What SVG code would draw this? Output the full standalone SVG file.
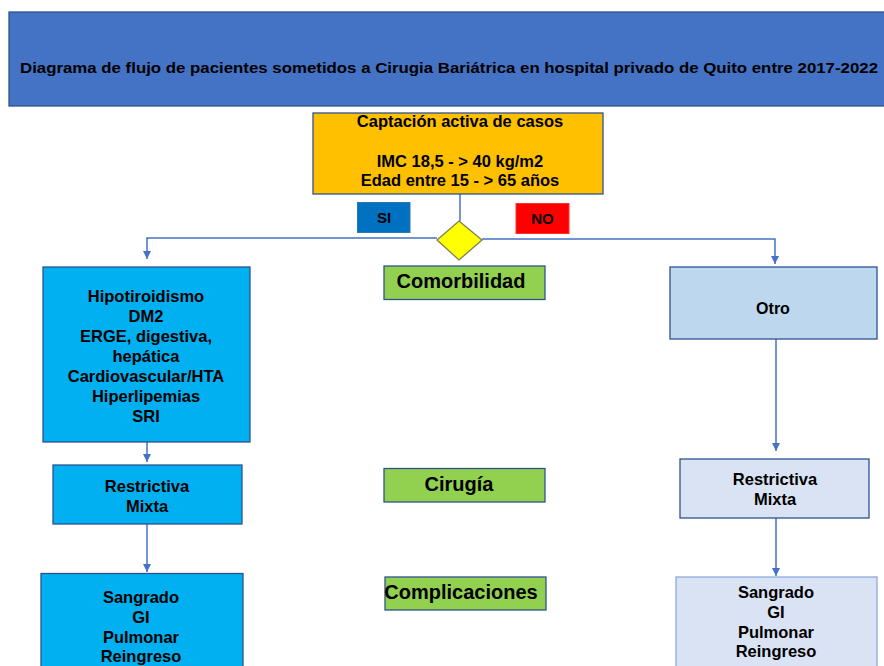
<svg xmlns="http://www.w3.org/2000/svg" width="884" height="666" viewBox="0 0 884 666">
<style>
text{font-family:"Liberation Sans",Arial,sans-serif;font-weight:bold;fill:#000;text-anchor:middle}
.b{stroke:#2F528F;stroke-width:1.3}
.c{stroke:#4472C4;stroke-width:1.5;fill:none}
.t16{font-size:16.5px}
.t20{font-size:20px}
</style>
<defs>
<marker id="ar" viewBox="0 0 10 10" refX="10" refY="5" markerWidth="8" markerHeight="8" markerUnits="userSpaceOnUse" orient="auto">
<path d="M0,0L10,5L0,10z" fill="#4472C4"/>
</marker>
</defs>
<rect width="884" height="666" fill="#fff"/>
<g id="title">
<rect x="9" y="12" width="880" height="94" fill="#4472C4" class="b"/>
<text x="449" y="73" style="font-size:15.5px" textLength="858" lengthAdjust="spacingAndGlyphs">Diagrama de flujo de pacientes sometidos a Cirugia Bariátrica en hospital privado de Quito entre 2017-2022</text>
</g>
<g id="connectors">
<line x1="460" y1="194" x2="460" y2="221" class="c"/>
<polyline points="437,238 147,238 147,259" class="c" marker-end="url(#ar)"/>
<polyline points="482,239 775,239 775,264" class="c" marker-end="url(#ar)"/>
<line x1="147" y1="442" x2="147" y2="462" class="c" marker-end="url(#ar)"/>
<line x1="147" y1="524" x2="147" y2="572" class="c" marker-end="url(#ar)"/>
<line x1="776" y1="339" x2="776" y2="451" class="c" marker-end="url(#ar)"/>
<line x1="776" y1="518" x2="776" y2="576" class="c" marker-end="url(#ar)"/>
</g>
<g id="captacion">
<rect x="313" y="113" width="290" height="81" fill="#FFC000" class="b"/>
<text x="460" y="127" class="t16">Captación activa de casos</text>
<text x="460" y="167" class="t16">IMC 18,5 - &gt; 40 kg/m2</text>
<text x="460" y="186" class="t16">Edad entre 15 - &gt; 65 años</text>
</g>
<g id="si">
<rect x="357.5" y="202.5" width="52.5" height="30" fill="#0070C0" stroke="#2E75B6" stroke-width="1"/>
<text x="384" y="223" style="font-size:15px">SI</text>
</g>
<g id="no">
<rect x="516" y="203.5" width="53" height="30" fill="#FF0000" stroke="#FF3030" stroke-width="1"/>
<text x="542.5" y="224" style="font-size:15px">NO</text>
</g>
<g id="decision">
<polygon points="459,221 482,240 459,260 437,240" fill="#FFFF00" stroke="#7F7F50" stroke-width="1.3"/>
</g>
<g id="comorb-si">
<rect x="43" y="267" width="207" height="175" fill="#00B0F0" class="b"/>
<text x="146" y="302" class="t16">Hipotiroidismo</text>
<text x="146" y="322" class="t16">DM2</text>
<text x="146" y="342" class="t16">ERGE, digestiva,</text>
<text x="146" y="362" class="t16">hepática</text>
<text x="146" y="382" class="t16">Cardiovascular/HTA</text>
<text x="146" y="402" class="t16">Hiperlipemias</text>
<text x="146" y="422" class="t16">SRI</text>
</g>
<g id="otro">
<rect x="670" y="267" width="207" height="72" fill="#BDD7EE" class="b"/>
<text x="773" y="314" style="font-size:16px">Otro</text>
</g>
<g id="label-comorbilidad">
<rect x="384" y="266" width="161" height="33.5" fill="#92D050" class="b"/>
<text x="461" y="288" class="t20">Comorbilidad</text>
</g>
<g id="cirugia-si">
<rect x="53" y="465" width="189" height="59" fill="#00B0F0" class="b"/>
<text x="147" y="492" class="t16">Restrictiva</text>
<text x="147" y="512" class="t16">Mixta</text>
</g>
<g id="label-cirugia">
<rect x="384" y="468.5" width="161" height="33.5" fill="#92D050" class="b"/>
<text x="459" y="491" class="t20">Cirugía</text>
</g>
<g id="cirugia-otro">
<rect x="680" y="459" width="189" height="59" fill="#DAE3F3" class="b"/>
<text x="775" y="485" class="t16">Restrictiva</text>
<text x="775" y="505" class="t16">Mixta</text>
</g>
<g id="compl-si">
<rect x="41" y="573.5" width="202" height="100" fill="#00B0F0" class="b"/>
<text x="141" y="603" class="t16">Sangrado</text>
<text x="141" y="623" class="t16">GI</text>
<text x="141" y="643" class="t16">Pulmonar</text>
<text x="141" y="662" class="t16">Reingreso</text>
</g>
<g id="label-complicaciones">
<rect x="385" y="577" width="161" height="33" fill="#92D050" class="b"/>
<text x="461" y="599" class="t20">Complicaciones</text>
</g>
<g id="compl-otro">
<rect x="676" y="577" width="201" height="100" fill="#DAE3F3" stroke="#8FAADC" stroke-width="1.3"/>
<text x="776" y="598" class="t16">Sangrado</text>
<text x="776" y="618" class="t16">GI</text>
<text x="776" y="638" class="t16">Pulmonar</text>
<text x="776" y="657" class="t16">Reingreso</text>
</g>
</svg>
